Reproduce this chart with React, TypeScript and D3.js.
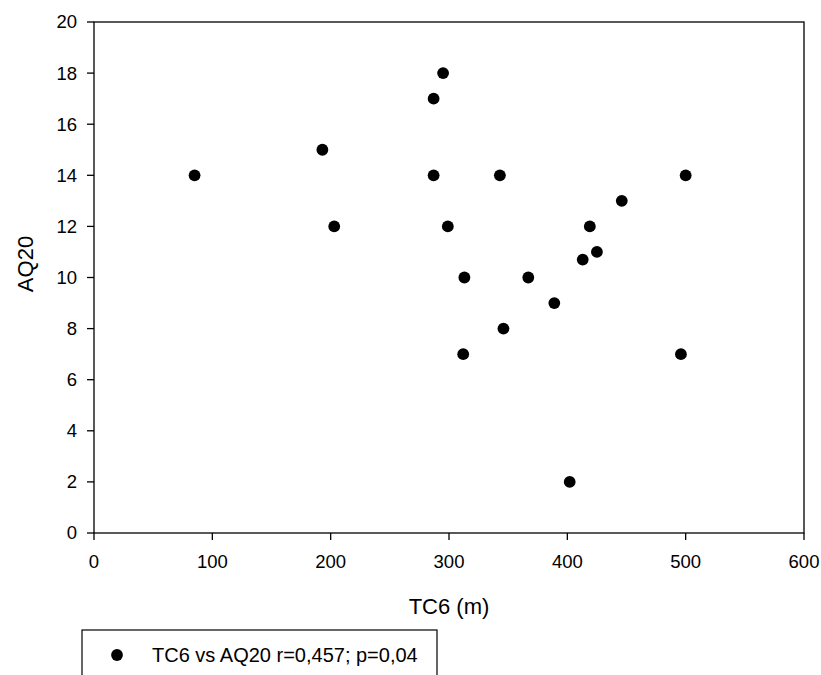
import React from 'react';
import * as d3 from 'd3';

// TC6 (m) vs AQ20
const tc6 = [85, 193, 203, 287, 295, 287, 343, 299, 313, 312, 346, 367, 389, 413, 419, 425, 446, 402, 496, 500];
const aq20 = [14, 15, 12, 17, 18, 14, 14, 12, 10, 7, 8, 10, 9, 10.7, 12, 11, 13, 2, 7, 14];

const xTicks = [0, 100, 200, 300, 400, 500, 600];
const yTicks = [0, 2, 4, 6, 8, 10, 12, 14, 16, 18, 20];

const legendLabel = 'TC6 vs AQ20 r=0,457; p=0,04';
const xTitle = 'TC6 (m)';
const yTitle = 'AQ20';

const W = 821;
const H = 675;
const margin = { top: 22, left: 94, right: 17, bottom: 142 };
const font = '"Liberation Sans", Arial, sans-serif';

const App = () => {
  const x = d3.scaleLinear().domain([0, 600]).range([margin.left, W - margin.right]);
  const y = d3.scaleLinear().domain([0, 20]).range([H - margin.bottom, margin.top]);

  const points = tc6.map((v, i) => ({ x: v, y: aq20[i] }));
  const [x0, x1] = x.range();
  const [y0, y1] = y.range();

  return (
    <svg
      width={W}
      height={H}
      style={{ position: 'absolute', left: 0, top: 0, background: '#fff' }}
      fontFamily={font}
    >
      {/* frame */}
      <rect x={x0} y={y1} width={x1 - x0} height={y0 - y1} fill="none" stroke="#000" strokeWidth={1.3} />

      {/* x axis ticks */}
      {xTicks.map((t) => (
        <g key={'x' + t}>
          <line x1={x(t)} x2={x(t)} y1={y0} y2={y0 + 7} stroke="#000" strokeWidth={1.3} />
          <text x={x(t)} y={y0 + 35} textAnchor="middle" fontSize={18.5}>
            {t}
          </text>
        </g>
      ))}

      {/* y axis ticks */}
      {yTicks.map((t) => (
        <g key={'y' + t}>
          <line x1={x0 - 7} x2={x0} y1={y(t)} y2={y(t)} stroke="#000" strokeWidth={1.3} />
          <text x={x0 - 17} y={y(t)} dy="0.35em" textAnchor="end" fontSize={18.5}>
            {t}
          </text>
        </g>
      ))}

      {/* axis titles */}
      <text x={(x0 + x1) / 2} y={614} textAnchor="middle" fontSize={22}>
        {xTitle}
      </text>
      <text transform="translate(33,264) rotate(-90)" textAnchor="middle" fontSize={22}>
        {yTitle}
      </text>

      {/* points */}
      {points.map((p, i) => (
        <circle key={i} cx={x(p.x)} cy={y(p.y)} r={5.9} fill="#000" />
      ))}

      {/* legend */}
      <rect x={82} y={630} width={355} height={60} fill="#fff" stroke="#000" strokeWidth={1.2} />
      <circle cx={117} cy={655} r={5.9} fill="#000" />
      <text x={152} y={662} fontSize={20}>
        {legendLabel}
      </text>
    </svg>
  );
};

export default App;
